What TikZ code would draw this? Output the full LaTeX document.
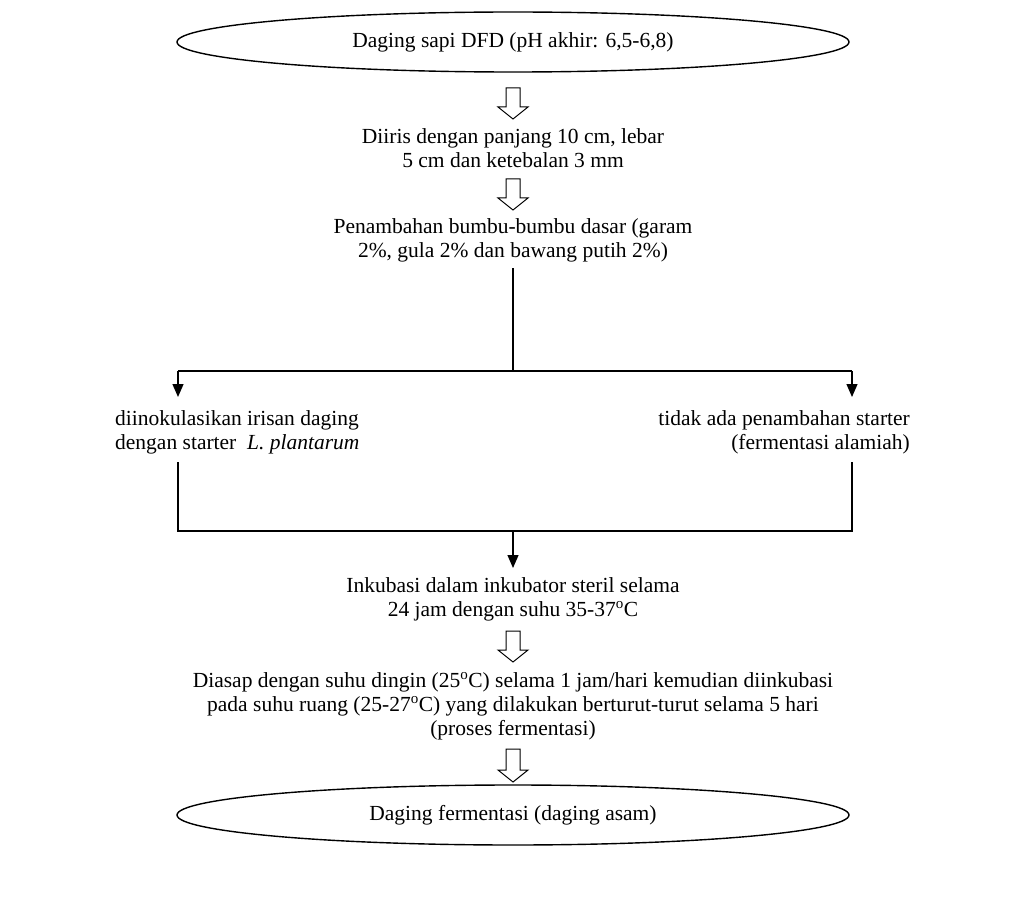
\documentclass[tikz,border=0pt]{standalone}
\usepackage{fontspec}
\setmainfont{Liberation Serif}
\usetikzlibrary{shapes.geometric,arrows.meta}
\tikzset{
  txt/.style={font=\fontsize{21.5}{24}\selectfont, align=center, inner sep=0pt},
  oval/.style={draw, line width=1.4pt, ellipse, minimum width=672, minimum height=60, inner sep=0pt, font=\fontsize{21.5}{24}\selectfont},
  conn/.style={line width=1.3pt},
  arr/.style={line width=1.3pt, -{Triangle[length=13pt,width=11pt]}},
  hollow/.style={draw, line width=1pt, fill=white}
}
\newcommand{\hollowarrow}[3]{% x, ytop, ybot
  \draw[hollow] (#1-7,#2) -- (#1+7,#2) -- (#1+7,#3-12) -- (#1+15,#3-12) -- (#1,#3) -- (#1-15,#3-12) -- (#1-7,#3-12) -- cycle;}
\begin{document}
\begin{tikzpicture}[x=1pt,y=-1pt]
\useasboundingbox (0,0) rectangle (1026,915);
\node[oval] (start) at (513,42) {Daging sapi DFD (pH akhir: 6,5-6,8)};
\node[txt] (iris) at (513,148) {Diiris dengan panjang 10 cm, lebar\\5 cm dan ketebalan 3 mm};
\node[txt] (bumbu) at (513,240) {Penambahan bumbu-bumbu dasar (garam\\2\%, gula 2\% dan bawang putih 2\%)};
\node[txt, align=left, anchor=west] (kiri) at (115,432) {diinokulasikan irisan daging\\dengan starter \ \textit{L. plantarum}};
\node[txt, align=right, anchor=east] (kanan) at (910,432) {tidak ada penambahan starter\\(fermentasi alamiah)};
\node[txt] (inkub) at (513,599) {Inkubasi dalam inkubator steril selama\\24 jam dengan suhu 35-37\textsuperscript{o}C};
\node[txt] (asap) at (513,706) {Diasap dengan suhu dingin (25\textsuperscript{o}C) selama 1 jam/hari kemudian diinkubasi\\pada suhu ruang (25-27\textsuperscript{o}C) yang dilakukan berturut-turut selama 5 hari\\(proses fermentasi)};
\node[oval] (end) at (513,815) {Daging fermentasi (daging asam)};

\hollowarrow{513}{88}{119}
\hollowarrow{513}{179}{210}
\hollowarrow{513}{631}{662}
\hollowarrow{513}{749}{782}

\coordinate (split) at (513,371);
\coordinate (join) at (513,531);
\draw[conn] (513,268) -- (split);
\draw[conn] (178,371) -- (852,371);
\draw[arr] (178,371) -- (178,397);
\draw[arr] (852,371) -- (852,397);
\draw[conn] (178,462) -- (178,531) -- (852,531) -- (852,462);
\draw[arr] (join) -- (513,568);
\end{tikzpicture}
\end{document}
